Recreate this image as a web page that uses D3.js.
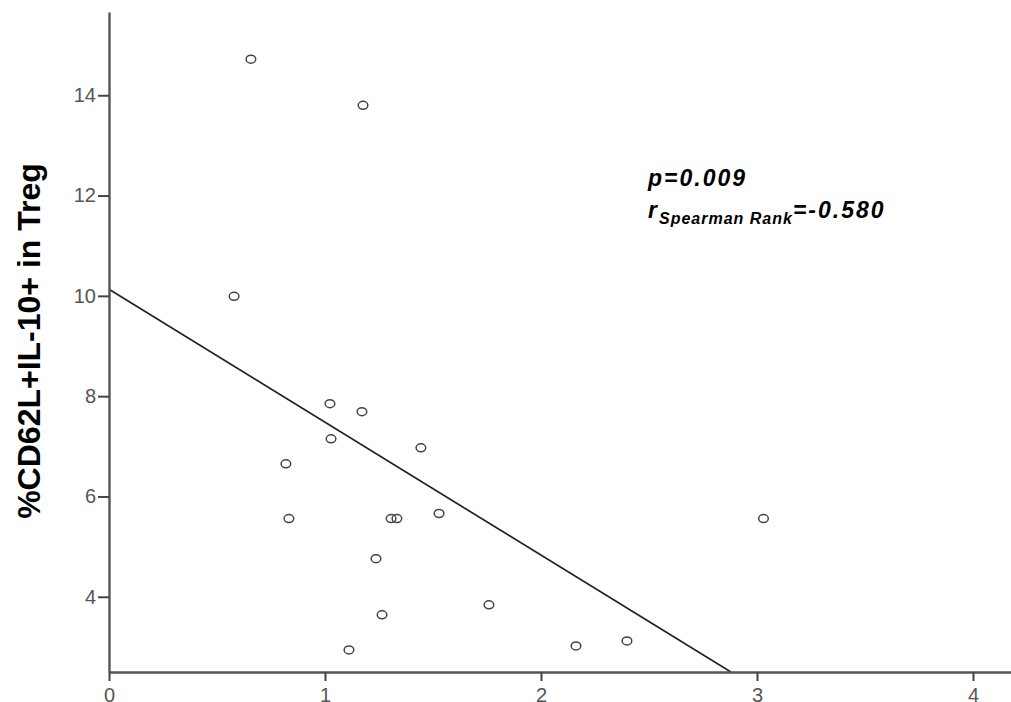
<!DOCTYPE html>
<html>
<head>
<meta charset="utf-8">
<script src="https://cdn.jsdelivr.net/npm/d3@7"></script>
<style>
  body { margin: 0; background: #fff; }
  svg { display: block; font-family: "Liberation Sans", Arial, sans-serif; }
</style>
</head>
<body>
<svg id="chart"></svg>
<script>
const width = 1011;
const height = 702;

// values
const xValues = [0.657, 1.176, 0.579, 1.023, 1.171, 1.028, 1.444, 0.819, 0.833, 1.306, 1.333, 1.528, 1.236, 1.264, 1.759, 1.111, 2.162, 2.398, 3.03];
const yValues = [14.72, 13.8, 9.99, 7.85, 7.69, 7.15, 6.97, 6.65, 5.56, 5.56, 5.56, 5.66, 4.76, 3.64, 3.84, 2.94, 3.02, 3.12, 5.56];
const xTicks = [0, 1, 2, 3, 4];
const yTicks = [4, 6, 8, 10, 12, 14];
const fitIntercept = 10.13;
const fitSlope = -2.65;

const margin = { left: 109, top: 12, bottom: 30 };

const svg = d3.select("#chart").attr("width", width).attr("height", height);

const x = d3.scaleLinear().domain([0, 4.2]).range([margin.left, margin.left + 216 * 4.2]);
const y = d3.scaleLinear().domain([2.5, 15.66]).range([height - margin.bottom, margin.top]);

// regression line, clipped to the plot area
svg.append("clipPath").attr("id", "plot-clip")
  .append("rect")
  .attr("x", x(0)).attr("y", y(15.66))
  .attr("width", x(4.2) - x(0)).attr("height", y(2.5) - y(15.66));

const xEnd = (2.5 - fitIntercept) / fitSlope;
svg.append("line")
  .attr("clip-path", "url(#plot-clip)")
  .attr("x1", x(0)).attr("y1", y(fitIntercept))
  .attr("x2", x(xEnd)).attr("y2", y(fitIntercept + fitSlope * xEnd))
  .attr("stroke", "#222")
  .attr("stroke-width", 1.7);

// points (slightly flattened rings like the original)
svg.append("g")
  .selectAll("ellipse")
  .data(xValues.map((v, i) => [v, yValues[i]]))
  .enter()
  .append("ellipse")
  .attr("cx", d => x(d[0]))
  .attr("cy", d => y(d[1]))
  .attr("rx", 4.8)
  .attr("ry", 4.0)
  .attr("fill", "none")
  .attr("stroke", "#444")
  .attr("stroke-width", 1.5);

// axes
const xAxis = svg.append("g")
  .attr("transform", `translate(0,${y(2.5)})`)
  .call(d3.axisBottom(x).tickValues(xTicks).tickFormat(d3.format("d")).tickSize(9).tickPadding(7).tickSizeOuter(0));

const yAxis = svg.append("g")
  .attr("transform", `translate(${x(0)},0)`)
  .call(d3.axisLeft(y).tickValues(yTicks).tickFormat(d3.format("d")).tickSize(11).tickPadding(2).tickSizeOuter(0));

[xAxis, yAxis].forEach(a => {
  a.select(".domain").attr("stroke", "#555").attr("stroke-width", 2.4);
  a.selectAll(".tick line").attr("stroke", "#444").attr("stroke-width", 2);
  a.selectAll(".tick text")
    .attr("fill", "#555")
    .style("font-size", "20px")
    .style("font-family", "'Liberation Sans', Arial, sans-serif");
});

// y title
svg.append("text")
  .attr("transform", `translate(40,341) rotate(-90)`)
  .attr("text-anchor", "middle")
  .style("font-size", "32px")
  .style("font-weight", "bold")
  .attr("fill", "#000")
  .text("%CD62L+IL-10+ in Treg");

// statistics annotation
const note = svg.append("g")
  .style("font-weight", "bold")
  .style("font-style", "italic")
  .attr("fill", "#000");

note.append("text")
  .attr("x", 648).attr("y", 186)
  .style("font-size", "23px")
  .style("letter-spacing", "2px")
  .text("p=0.009");

const r = note.append("text")
  .attr("x", 648).attr("y", 218)
  .style("font-size", "23px")
  .style("letter-spacing", "2px");
r.append("tspan").text("r");
r.append("tspan").attr("dy", 6).style("font-size", "16px").style("letter-spacing", "1px").text("Spearman Rank");
r.append("tspan").attr("dy", -6).text("=-0.580");
</script>
</body>
</html>
